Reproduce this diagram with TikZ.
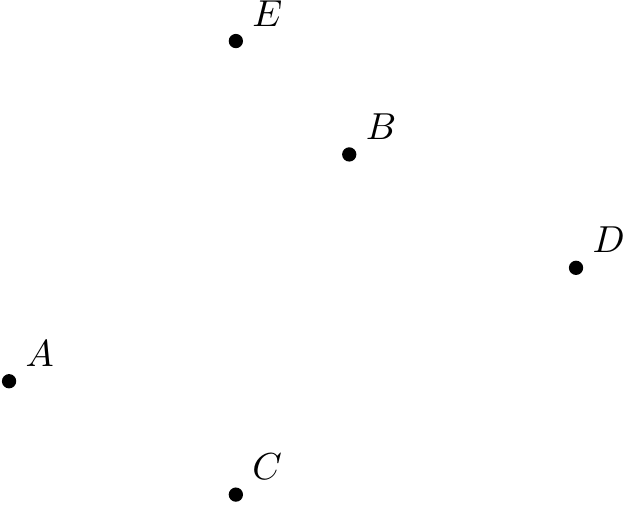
\documentclass[tikz,border=0pt]{standalone}
\usepackage{tikz}

\begin{document}
\begin{tikzpicture}[
  x=1.06cm, y=1.06cm,
  pt/.style={circle, fill=black, draw=none, inner sep=0pt, minimum size=3.8pt},
  lbl/.style={anchor=base west, inner sep=0pt},
]

% --- fixed bounding box (white background) ---
\fill[white] (-0.08,-0.088) rectangle (5.423,4.362);
\useasboundingbox (-0.08,-0.088) rectangle (5.423,4.362);

% ============================ POINTS ================================
\node[pt] (A) at (0,1) {};
\node[pt] (C) at (2,0) {};
\node[pt] (E) at (2,4) {};
\node[pt] (B) at (3,3) {};
\node[pt] (D) at (5,2) {};

% ============================ LABELS ================================
\node[lbl] (lA) at ([shift={(4.2pt,4pt)}]A.center) {$A$};
\node[lbl] (lC) at ([shift={(4.2pt,4pt)}]C.center) {$C$};
\node[lbl] (lE) at ([shift={(4.2pt,4pt)}]E.center) {$E$};
\node[lbl] (lB) at ([shift={(4.2pt,4pt)}]B.center) {$B$};
\node[lbl] (lD) at ([shift={(4.2pt,4pt)}]D.center) {$D$};

\end{tikzpicture}
\end{document}
